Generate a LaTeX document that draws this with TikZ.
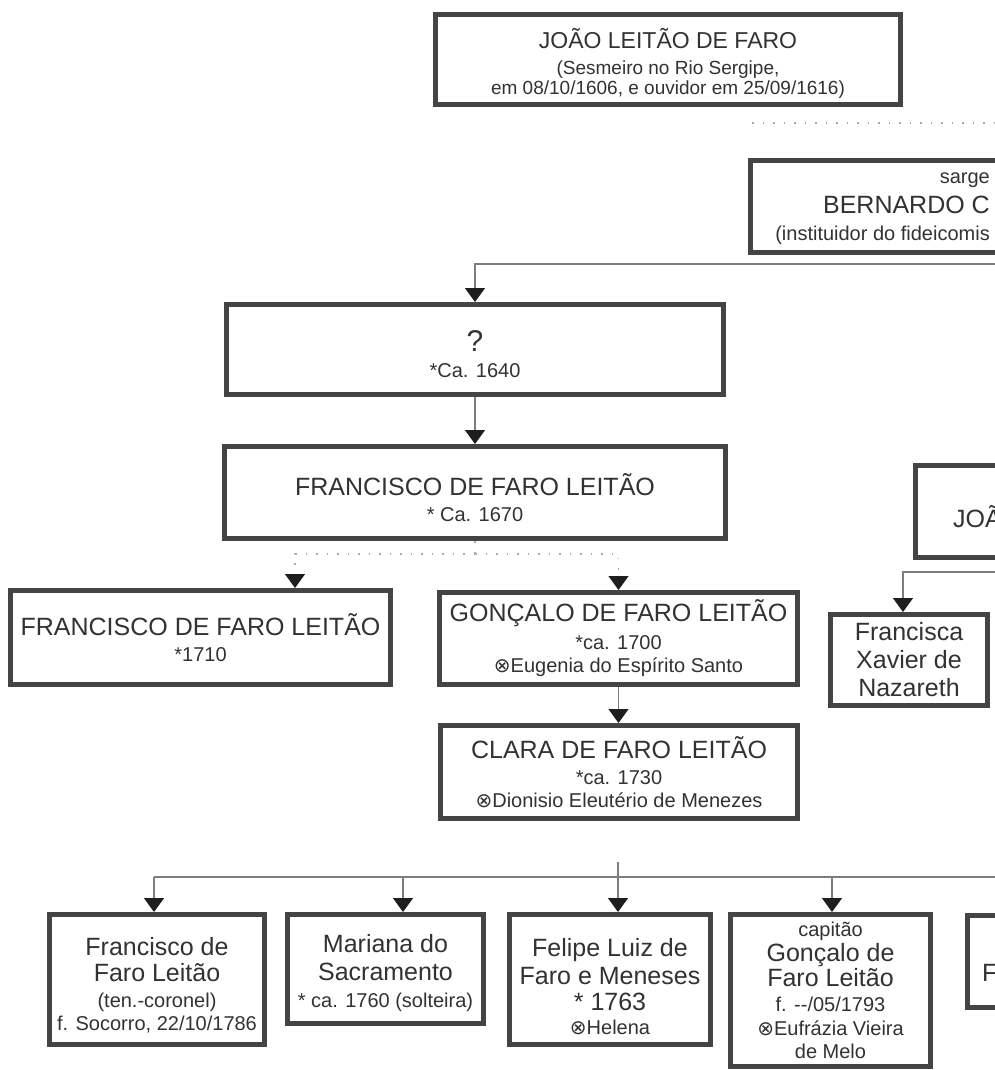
\documentclass[tikz,border=0pt]{standalone}
\usepackage{fontspec}
\setmainfont{Liberation Sans}
\newfontfamily\symfont{DejaVu Sans}
\usetikzlibrary{arrows.meta}
\definecolor{mtext}{RGB}{50,50,50}
\definecolor{mframe}{RGB}{68,68,68}
\definecolor{mline}{RGB}{125,125,125}
\definecolor{mdot}{RGB}{170,170,170}
\definecolor{mtip}{RGB}{30,30,30}
\newcommand{\nametxt}{\fontsize{25}{28}\selectfont}
\newcommand{\subtxt}{\fontsize{20}{26}\selectfont}
\newcommand{\casado}{{\symfont ⊗}}
\newcommand{\topgap}[1]{\rule{0pt}{#1pt}}
\tikzset{person/.style = {draw=mframe, line width=5pt, fill=white, text=mtext,
                          align=center, inner sep=0pt, font=\subtxt},
         cuttxt/.style = {text=mtext, inner sep=0pt},
         tip/.style = {-{Triangle[width=20pt, length=14pt, color=mtip]}},
         bus/.style = {draw=mline, line width=1.2pt},
         kid/.style = {bus, tip},
         maybe/.style = {draw=mdot, line width=1.2pt, dash pattern=on 1.5pt off 9pt}}

\begin{document}
\begin{tikzpicture}[x=1pt, y=-1pt]
    \useasboundingbox (0,0) rectangle (995,1070);
    \fill [white] (0,0) rectangle (995,1070);
    \clip (0,0) rectangle (995,1070);

    \node [person, minimum width=465, minimum height=90, font=\fontsize{19}{18}\selectfont] (joao) at (668,59.5)
      {\fontsize{23}{26}\selectfont\topgap{28}JOÃO LEITÃO DE FARO\\[8pt] (Sesmeiro no Rio Sergipe,\\[1.5pt] em 08/10/1606, e ouvidor em 25/09/1616)};
    \coordinate (joaosp) at (752,123);
    \coordinate (joaosr) at (1000,123);
    \draw [maybe] (joaosp) -- (joaosr);

    \node [person, minimum width=497, minimum height=92] (bernardo) at (999,206.5) {};
    \node [cuttxt, align=right, anchor=east, font=\fontsize{20}{27}\selectfont] (bernardotxt) at (990,209)
      {sarge\\[3pt] \nametxt BERNARDO C\\ (instituidor do fideicomis};
    \coordinate (bernkid) at (1000,264);

    \node [person, minimum width=497, minimum height=90] (q) at (475,349.5)
      {\fontsize{30}{32}\selectfont\topgap{30}?\\ *Ca. 1640};
    \draw [kid] (bernkid) -| (q.north);

    \node [person, minimum width=501, minimum height=92] (fran) at (475,492.5)
      {\nametxt\topgap{33}FRANCISCO DE FARO LEITÃO\\ * Ca. 1670};
    \draw [kid] (q.south) -- (fran.north);

    \node [person, minimum width=380, minimum height=94] (fran2) at (200.5,637.5)
      {\nametxt FRANCISCO DE FARO LEITÃO\\ *1710};
    \node [person, minimum width=358, minimum height=92] (gon) at (618.5,638.5)
      {\nametxt GONÇALO DE FARO LEITÃO\\[2pt] *ca. 1700\\[-3pt] \casado Eugenia do Espírito Santo};
    \draw [maybe] (fran.south) -- ++(0,13) coordinate (fransplit);
    \draw [maybe, tip] (fransplit) -| ([xshift=94.5pt]fran2.north);
    \draw [maybe, tip] (fransplit) -| (gon.north);

    \node [person, minimum width=357, minimum height=93] (clara) at (619,772)
      {\nametxt CLARA DE FARO LEITÃO\\ *ca. 1730\\[-3pt] \casado Dionisio Eleutério de Menezes};
    \draw [kid] (gon.south) -- (gon.south |- clara.north);

    % right branch
    \node [person, minimum width=469, minimum height=92] (joa) at (1150,511.5) {};
    \node [cuttxt, anchor=west, font=\nametxt] (joatxt) at (953,517) {JOÃ};
    \coordinate (joakid) at (1000,572);
    \node [person, minimum width=157, minimum height=91, font=\nametxt] (franc) at (909,660)
      {Francisca\\ Xavier de\\ Nazareth};
    \draw [kid] (joakid) -| ([xshift=-6pt]franc.north);

    % children of Clara
    \coordinate (clarakid) at (618,862);
    \coordinate (busl) at (154,877);
    \coordinate (busm) at (403,877);
    \coordinate (busg) at (832,877);
    \coordinate (busr) at (1000,877);
    \draw [bus] (busl) -- (busr);

    \node [person, minimum width=215, minimum height=130] (fdf) at (157,979.5)
      {\nametxt\topgap{30}Francisco de\\ \nametxt Faro Leitão\\ (ten.-coronel)\\[-3pt] f. Socorro, 22/10/1786};
    \node [person, minimum width=196, minimum height=109] (mar) at (385.5,969)
      {\nametxt\topgap{27}Mariana do\\[2pt] \nametxt Sacramento\\[1pt] * ca. 1760 (solteira)};
    \node [person, minimum width=201, minimum height=130] (fel) at (610,979.5)
      {\nametxt\topgap{32}Felipe Luiz de\\[2pt] \nametxt Faro e Meneses\\ \nametxt * 1763\\[-2pt] \casado Helena};
    \node [person, minimum width=200, minimum height=152, font=\fontsize{20}{25}\selectfont] (gcap) at (830.5,990.5)
      {capitão\\ \nametxt Gonçalo de\\ \nametxt Faro Leitão\\ f. {-}{-}/05/1793\\[-1pt] \casado Eufrázia Vieira\\[-2pt] de Melo};
    \node [person, minimum width=330, minimum height=92] (fcut) at (1132.5,961.5) {};
    \node [cuttxt, anchor=west, font=\nametxt] (fcuttxt) at (982,973) {F};

    \draw [kid] (busl) -- (busl |- fdf.north);
    \draw [kid] (busm) -- (busm |- mar.north);
    \draw [kid] (clarakid) -- (clarakid |- fel.north);
    \draw [kid] (busg) -- (busg |- gcap.north);
\end{tikzpicture}
\end{document}
